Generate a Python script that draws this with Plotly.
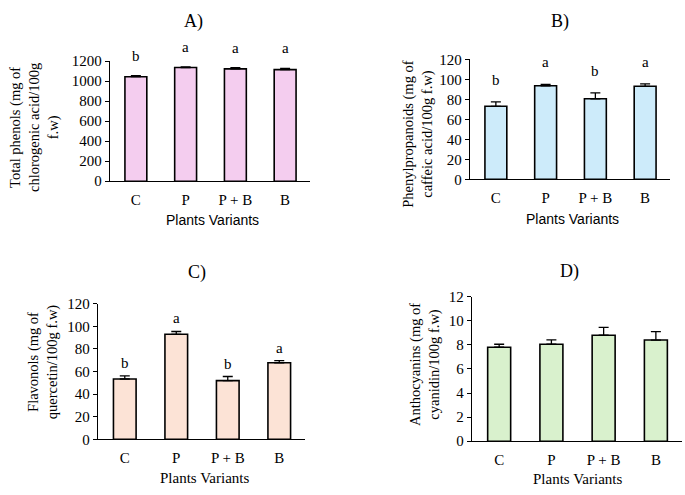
import plotly.graph_objects as go

categories = ["C", "P", "P + B", "B"]

phenols = [1045, 1137, 1123, 1116]
phenols_err = [10, 7, 12, 12]
phenols_letters = ["b", "a", "a", "a"]

phenylpropanoids = [73, 93.5, 80.5, 93]
phenylpropanoids_err = [4.5, 1.5, 6, 2.5]
phenylpropanoids_letters = ["b", "a", "b", "a"]

flavonols = [53.4, 93, 52, 67.8]
flavonols_err = [2.8, 2.5, 3.6, 1.8]
flavonols_letters = ["b", "a", "b", "a"]

anthocyanins = [7.8, 8.05, 8.8, 8.4]
anthocyanins_err = [0.25, 0.37, 0.65, 0.7]
anthocyanins_letters = ["", "", "", ""]

panel_titles = ["A)", "B)", "C)", "D)"]
y_titles = [
    "Total phenols (mg of<br>chlorogenic acid/100g<br>f.w)",
    "Phenylpropanoids (mg of<br>caffeic acid/100g f.w)",
    "Flavonols (mg of<br>quercetin/100g f.w)",
    "Anthocyanins (mg of<br>cyanidin/100g f.w)",
]
x_title = "Plants Variants"
y_ranges = [(0, 1200, 200), (0, 120, 20), (0, 120, 20), (0, 12, 2)]

W, H = 685, 495
SERIF = "Liberation Serif, Times New Roman, serif"
SANS = "Liberation Sans, Arial, sans-serif"

# pixel layout per panel: x0, x1, ytop, ybottom
boxes = [(110, 310, 55, 179), (470, 670, 53, 177), (98, 305, 305.7, 445.7), (472, 682, 298.3, 447.7)]
colors = ["#F4CDEF", "#CDEBFA", "#FCE3D6", "#D9F1CD"]
title_pos = [(193, 14), (560, 14), (197, 273), (569, 272)]
ytitle_pos = [(35, 124), (418, 130), (43, 366), (425, 369)]
xtitle_pos = [(212, 219), (572, 218), (204, 486), (577, 487)]
xtitle_fonts = [SANS, SANS, SERIF, SERIF]
xtitle_sizes = [14, 14, 15, 15]
letter_shift = [10, 12, 3, 3]

series = [
    (phenols, phenols_err, phenols_letters),
    (phenylpropanoids, phenylpropanoids_err, phenylpropanoids_letters),
    (flavonols, flavonols_err, flavonols_letters),
    (anthocyanins, anthocyanins_err, anthocyanins_letters),
]

fig = go.Figure()
annotations = []
layout = {}

for i, ((vals, errs, letters), box, col) in enumerate(zip(series, boxes, colors)):
    n = "" if i == 0 else str(i + 1)
    xa, ya = "x" + n, "y" + n
    fig.add_trace(go.Bar(
        x=categories, y=vals, xaxis=xa, yaxis=ya, width=0.44,
        marker=dict(color=col, line=dict(color="black", width=1.6)),
        error_y=dict(type="data", array=errs, arrayminus=[0] * len(errs), symmetric=False,
                     color="black", thickness=1.3, width=5),
        showlegend=False,
    ))
    x0, x1, yt, yb = box
    r0, r1, dt = y_ranges[i]
    layout["xaxis" + n] = dict(
        domain=[x0 / W, x1 / W], anchor=ya, range=[-0.52, 3.5],
        showline=True, linecolor="black", linewidth=1.4, ticks="outside", ticklen=5,
        tickcolor="rgba(0,0,0,0)", showgrid=False, zeroline=False,
        tickfont=dict(family=SERIF, size=15, color="black"), fixedrange=True,
    )
    layout["yaxis" + n] = dict(
        domain=[1 - yb / H, 1 - yt / H], anchor=xa, range=[r0, r1], dtick=dt,
        showline=True, linecolor="black", linewidth=1.4, ticks="outside", ticklen=4,
        tickcolor="black", tickwidth=1.2, showgrid=False, zeroline=False,
        tickfont=dict(family=SERIF, size=15, color="black"),
    )
    for c, v, e, L in zip(categories, vals, errs, letters):
        if L:
            annotations.append(dict(
                xref=xa, yref=ya, x=c, y=v + e, text=L, showarrow=False,
                yanchor="bottom", yshift=letter_shift[i],
                font=dict(family=SERIF, size=15, color="black"),
            ))
    tx, ty = title_pos[i]
    annotations.append(dict(xref="paper", yref="paper", x=tx / W, y=1 - ty / H, text=panel_titles[i],
                            showarrow=False, xanchor="center", yanchor="middle",
                            font=dict(family=SERIF, size=18, color="black")))
    yx, yy = ytitle_pos[i]
    annotations.append(dict(xref="paper", yref="paper", x=yx / W, y=1 - yy / H, text=y_titles[i],
                            showarrow=False, xanchor="center", yanchor="middle", textangle=-90,
                            font=dict(family=SERIF, size=14.5, color="black")))
    xx, xy = xtitle_pos[i]
    annotations.append(dict(xref="paper", yref="paper", x=xx / W, y=1 - xy / H, text=x_title,
                            showarrow=False, xanchor="center", yanchor="middle",
                            font=dict(family=xtitle_fonts[i], size=xtitle_sizes[i], color="black")))

fig.update_layout(
    width=W, height=H, margin=dict(l=0, r=0, t=0, b=0),
    paper_bgcolor="white", plot_bgcolor="white",
    annotations=annotations, **layout,
)
fig.write_html("out.html")
